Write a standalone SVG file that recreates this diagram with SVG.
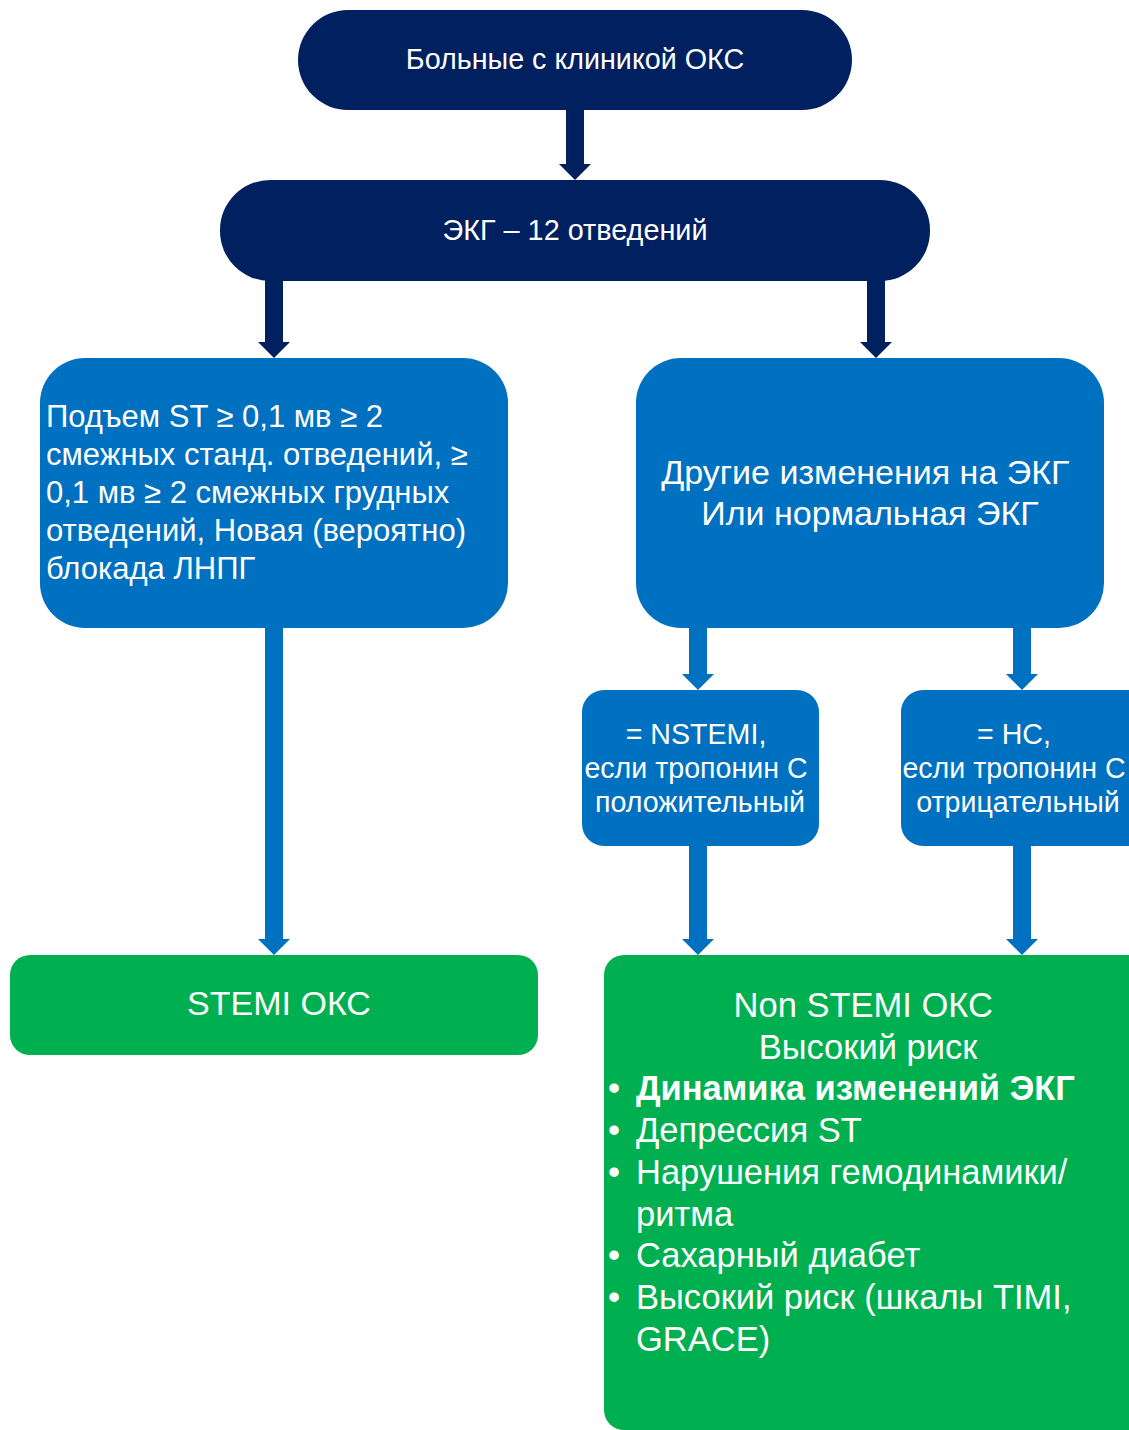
<svg xmlns="http://www.w3.org/2000/svg" width="1129" height="1430" viewBox="0 0 1129 1430">
<style>
.navy{fill:#002060}
.blue{fill:#0070C0}
.green{fill:#00B050}
text{font-family:"Liberation Sans",Arial,sans-serif;fill:#ffffff}
.c{text-anchor:middle}
</style>
<rect width="1129" height="1430" fill="#ffffff"/>
<g id="connectors">
<path class="navy" d="M566,108 H584 V164 H591 L575,180 L559,164 H566 Z"/>
<path class="navy" d="M265,279 H283 V342 H290 L274,358 L258,342 H265 Z"/>
<path class="navy" d="M867,279 H885 V342 H892 L876,358 L860,342 H867 Z"/>
<path class="blue" d="M265,626 H283 V939 H290 L274,955 L258,939 H265 Z"/>
<path class="blue" d="M689,626 H707 V674 H714 L698,690 L682,674 H689 Z"/>
<path class="blue" d="M1013,626 H1031 V674 H1038 L1022,690 L1006,674 H1013 Z"/>
<path class="blue" d="M689,844 H707 V939 H714 L698,955 L682,939 H689 Z"/>
<path class="blue" d="M1013,844 H1031 V939 H1038 L1022,955 L1006,939 H1013 Z"/>
</g>
<g id="n1">
<rect class="navy" x="298" y="10" width="554" height="100" rx="50"/>
<text class="c" x="575" y="69" font-size="28.7">Больные с клиникой ОКС</text>
</g>
<g id="n2">
<rect class="navy" x="220" y="180" width="710" height="101" rx="50"/>
<text class="c" x="575" y="240" font-size="28.8">ЭКГ – 12 отведений</text>
</g>
<g id="n3">
<rect class="blue" x="40" y="358" width="468" height="270" rx="45"/>
<text font-size="31">
<tspan x="46" y="427">Подъем ST ≥ 0,1 мв ≥ 2</tspan>
<tspan x="46" y="465">смежных станд. отведений, ≥</tspan>
<tspan x="46" y="503">0,1 мв ≥ 2 смежных грудных</tspan>
<tspan x="46" y="541">отведений, Новая (вероятно)</tspan>
<tspan x="46" y="579">блокада ЛНПГ</tspan>
</text>
</g>
<g id="n4">
<rect class="blue" x="636" y="358" width="468" height="270" rx="45"/>
<text class="c" font-size="34">
<tspan x="870" y="484">Другие изменения на ЭКГ</tspan>
<tspan x="870" y="525">Или нормальная ЭКГ</tspan>
</text>
</g>
<g id="n5">
<rect class="blue" x="582" y="690" width="237" height="156" rx="22"/>
<text class="c" font-size="28.6">
<tspan x="700" y="744">= NSTEMI,</tspan>
<tspan x="700" y="778">если тропонин С</tspan>
<tspan x="700" y="812">положительный</tspan>
</text>
</g>
<g id="n6">
<rect class="blue" x="901" y="690" width="260" height="156" rx="22"/>
<text class="c" font-size="28.6">
<tspan x="1018" y="744">= НС,</tspan>
<tspan x="1018" y="778">если тропонин С</tspan>
<tspan x="1018" y="812">отрицательный</tspan>
</text>
</g>
<g id="n7">
<rect class="green" x="10" y="955" width="528" height="100" rx="20"/>
<text class="c" x="279" y="1015" font-size="34">STEMI ОКС</text>
</g>
<g id="n8">
<rect class="green" x="604" y="955" width="560" height="475" rx="20"/>
<text font-size="34.5">
<tspan class="c" x="868" y="1017">Non STEMI ОКС</tspan>
<tspan class="c" x="868" y="1059">Высокий риск</tspan>
</text>
<g font-size="34.5">
<text x="608" y="1100">•</text><text x="636" y="1100" font-weight="bold">Динамика изменений ЭКГ</text>
<text x="608" y="1142">•</text><text x="636" y="1142">Депрессия ST</text>
<text x="608" y="1184">•</text><text x="636" y="1184">Нарушения гемодинамики/</text>
<text x="636" y="1226">ритма</text>
<text x="608" y="1267">•</text><text x="636" y="1267">Сахарный диабет</text>
<text x="608" y="1309">•</text><text x="636" y="1309">Высокий риск (шкалы TIMI,</text>
<text x="636" y="1351">GRACE)</text>
</g>
</g>
</svg>
